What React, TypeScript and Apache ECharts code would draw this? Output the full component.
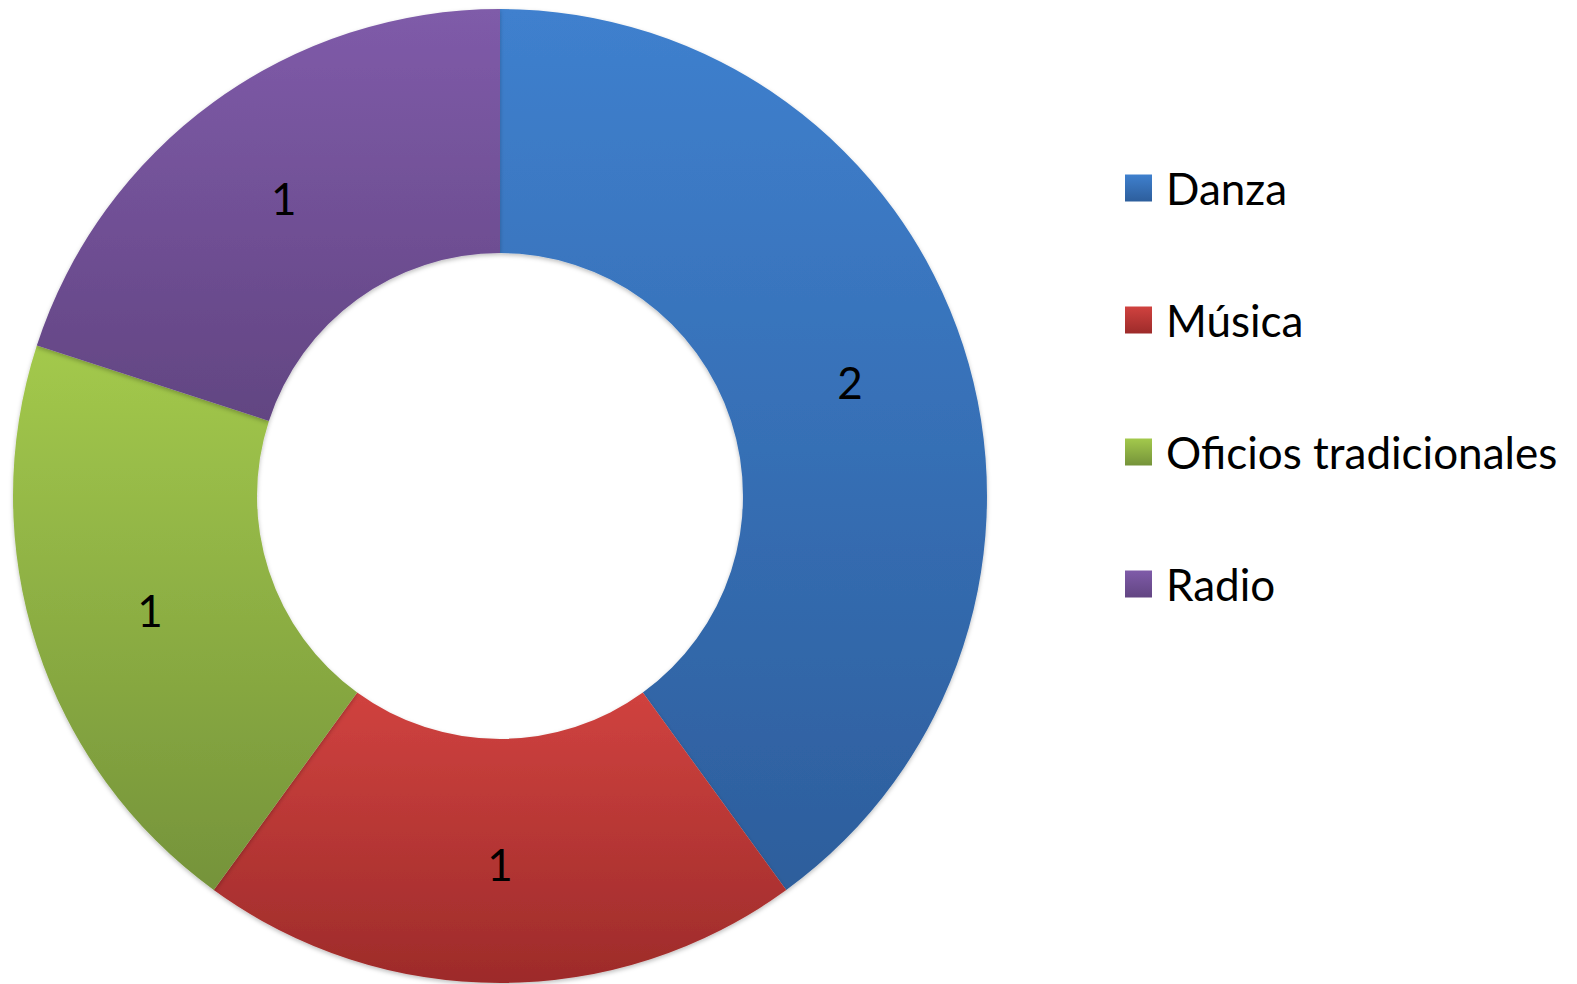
import React, { useEffect, useRef } from "react";
import * as echarts from "echarts";

const categories = ["Danza", "Música", "Oficios tradicionales", "Radio"];
const values = [2, 1, 1, 1];
const topColors = ["#3F80CE", "#D0423F", "#A3C94C", "#7F5BA9"];
const bottomColors = ["#2D5E9C", "#9D2B2A", "#75933A", "#624582"];

export default function App() {
  const ref = useRef<HTMLDivElement>(null);
  useEffect(() => {
    const chart = echarts.init(ref.current!, null, { renderer: "svg" });
    const grad = (i: number) =>
      new echarts.graphic.LinearGradient(0, 0, 0, 1, [
        { offset: 0, color: topColors[i] },
        { offset: 1, color: bottomColors[i] },
      ]);
    const data = categories.map((name, i) => ({
      name,
      value: values[i],
      itemStyle: { color: grad(i) },
    }));
    chart.setOption({
      animation: false,
      backgroundColor: "#ffffff",
      legend: {
        orient: "vertical",
        left: 1125,
        top: 166,
        padding: 0,
        itemWidth: 27,
        itemHeight: 27,
        itemGap: 88,
        icon: "rect",
        data: categories.map((name, i) => ({
          name,
          itemStyle: { color: grad(i) },
        })),
        textStyle: {
          fontFamily: "Lato",
          fontSize: 44,
          lineHeight: 40,
          color: "#000000",
          padding: [0, 0, 0, 9],
        },
      },
      series: [
        {
          type: "pie",
          center: [500, 496],
          radius: [243, 487],
          startAngle: 90,
          clockwise: true,
          data,
          itemStyle: {
            borderWidth: 0,
            shadowBlur: 4,
            shadowOffsetY: 2,
            shadowColor: "rgba(0,0,0,0.25)",
          },
          label: {
            show: true,
            position: "inside",
            formatter: "{c}",
            fontFamily: "Lato",
            fontSize: 44,
            color: "#000000",
          },
          labelLine: { show: false },
          emphasis: { disabled: true },
        },
      ],
    });
    return () => chart.dispose();
  }, []);
  return <div ref={ref} style={{ width: 1577, height: 984, position: "absolute", left: 0, top: 0 }} />;
}
